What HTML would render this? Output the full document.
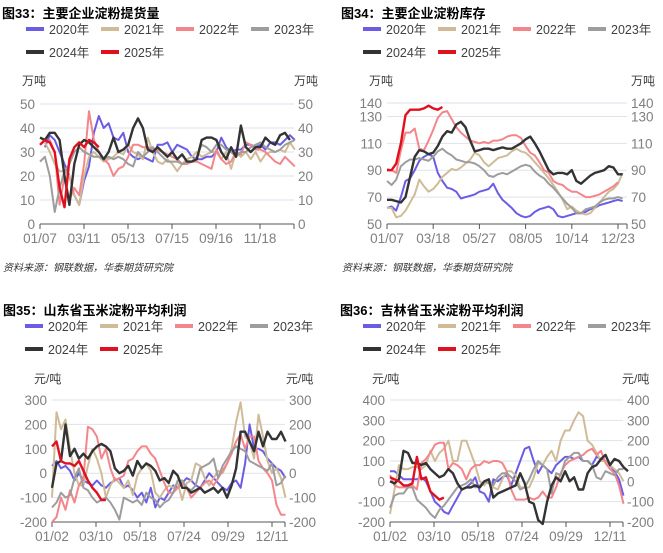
<!DOCTYPE html>
<html><head><meta charset="utf-8"><style>
body{margin:0;background:#fff}
svg text{font-family:"Liberation Sans","Noto Sans CJK SC",sans-serif}
</style></head><body>
<svg id="s" width="663" height="548" xmlns="http://www.w3.org/2000/svg"></svg>
<script>
const years=["2020年","2021年","2022年","2023年","2024年","2025年"];
const colors=["#6b5ce6","#cfbb98","#f4868b","#9d9d9d","#333333","#e0101e"];
// Panel 1: weekly shipments (万吨)
const p1Ticks=[0,10,20,30,40,50];
const p1XLabels=["01/07","03/11","05/13","07/15","09/16","11/18"];
const p1s2020=[null,32,37,35,30,25,20,12,8,18,24,38,45,40,42,36,35,38,30,28,27,28,27,26,33,33,34,30,33,32,31,28,27,27,28,28,30,36,32,30,31,31,33,33,32,33,31,34,34,33,35,37,35];
const p1s2021=[null,34,30,25,22,22,20,12,8,20,28,30,28,26,27,28,30,29,33,30,29,27,36,30,26,25,27,25,22,25,27,28,30,28,29,30,30,27,30,23,30,28,30,27,30,26,29,30,30,31,30,34,31];
const p1s2022=[null,34,35,30,8,20,10,15,12,25,47,35,30,27,25,20,23,24,28,33,33,32,32,31,31,30,29,28,27,25,25,26,26,25,24,23,31,27,25,26,30,29,34,33,31,31,30,28,26,25,28,26,24];
const p1s2023=[26,28,20,5,15,22,25,30,32,30,29,28,28,27,28,27,28,27,25,24,30,28,30,32,30,28,26,26,26,25,26,26,28,33,32,30,33,33,31,30,28,30,30,32,33,34,32,31,30,31,33,34,35];
const p1s2024=[36,35,38,38,35,20,8,25,33,35,34,32,30,27,30,36,30,31,33,40,44,40,31,30,32,30,28,30,27,29,26,26,27,35,36,36,35,30,27,32,28,41,32,30,32,32,36,34,33,37,38,35];
const p1s2025=[33,35,34,30,15,7,27,32,34,32,35,34,32];
// Panel 2: inventory (万吨)
const p2Ticks=[50,70,90,110,130,140];
const p2XLabels=["01/07","03/18","05/27","08/05","10/14","12/23"];
const p2s2020=[62,63,60,70,82,84,90,97,100,102,100,88,82,77,76,74,69,70,71,72,74,75,76,80,73,68,65,62,58,56,55,56,59,61,62,63,61,56,55,56,57,58,58,59,61,62,64,65,66,67,68,67];
const p2s2021=[62,62,55,56,60,66,72,83,78,74,76,80,85,88,91,90,92,95,98,103,101,96,93,96,99,100,101,104,106,104,103,100,96,92,88,84,79,74,68,61,63,60,58,57,58,62,66,70,74,76,80,88];
const p2s2022=[91,90,88,105,118,118,121,106,105,112,120,129,133,134,128,122,118,115,112,111,110,111,110,112,112,113,115,116,116,114,108,103,101,96,90,88,82,80,79,76,74,74,72,70,70,71,72,74,76,78,81];
const p2s2023=[82,79,83,93,96,98,98,99,98,97,100,104,106,103,101,98,97,96,96,95,93,90,86,85,87,88,87,89,91,93,94,93,89,86,84,80,77,73,69,65,62,58,58,61,62,63,66,68,69,69,70,69];
const p2s2024=[68,68,67,66,70,85,100,105,104,102,103,108,115,119,118,124,126,122,112,104,105,106,106,105,106,107,106,106,108,110,113,115,110,104,97,90,87,88,88,87,90,82,80,83,86,88,89,90,93,92,87,87];
const p2s2025=[90,90,95,110,131,135,135,135,136,138,136,135,137];
// Panel 3: Shandong profit (元/吨), weekly samples
const p3Ticks=[-200,-100,0,100,200,300];
const p3XLabels=["01/02","03/10","05/18","07/24","09/29","12/11"];
const p3s2020=[30,50,20,30,10,-30,0,-30,-40,-50,-30,-50,-60,-40,-30,-20,-60,-50,-70,-100,-80,-120,-60,-140,-100,-110,-80,-50,-60,-40,-20,-30,-50,-60,-30,0,-20,-40,-60,-70,-40,-30,-60,40,200,100,100,90,60,40,20,10,-20];
const p3s2021=[-100,250,180,220,100,0,-50,-50,30,100,60,0,-100,-50,-20,-40,-60,-30,-90,-10,20,40,10,-80,-100,-70,-50,-60,-40,-110,-40,-30,40,30,-20,-50,-20,10,0,40,100,210,290,150,130,60,240,150,50,0,20,-20,-100];
const p3s2022=[-200,-180,-100,-150,-70,-120,-50,-20,190,180,150,60,100,20,-30,-20,-10,50,60,90,110,110,80,60,10,-40,-80,-80,-60,-40,-60,-100,-80,-60,-40,-30,-50,-20,10,40,80,130,160,100,150,150,50,20,0,-30,-130,-170,-170];
const p3s2023=[-140,-120,-80,-100,-90,-20,20,-60,-70,-100,-120,-110,-100,-120,-150,-190,-100,-110,-120,-110,-130,-80,-100,-110,-140,-120,-110,-80,-30,-30,-60,-70,-50,20,30,40,60,-20,30,60,90,110,100,90,50,40,30,20,10,40,-50,-40,-10];
const p3s2024=[-60,40,50,200,70,100,60,80,60,90,110,120,110,90,20,0,10,30,-10,50,20,40,30,10,-30,-20,-40,10,-10,-60,-60,-80,-70,-60,-80,-70,-60,-80,-60,-100,-50,20,170,170,130,90,170,110,170,140,140,170,130];
const p3s2025=[110,130,50,40,40,30,50,10,-30,-60,-80,-110,-110];
// Panel 4: Jilin profit (元/吨)
const p4Ticks=[-200,-100,0,100,200,300,400];
const p4XLabels=p3XLabels;
const p4s2020=[50,50,30,10,10,10,10,20,0,-50,-100,-120,-150,-160,-120,-80,-40,-30,-10,20,-50,-60,-100,10,0,20,30,-20,40,100,160,170,100,40,80,60,40,80,100,120,120,110,120,100,100,80,120,110,100,80,50,10,-70];
const p4s2021=[-160,-40,80,60,60,70,70,60,80,150,100,140,160,200,100,100,200,200,140,80,0,-20,10,-30,-40,10,50,50,30,-30,-30,-30,20,90,80,120,150,100,200,250,250,300,340,320,200,180,140,100,100,80,60,40,0];
const p4s2022=[30,-20,-30,-30,-30,-20,-40,90,110,140,180,190,190,60,90,80,60,10,60,80,80,100,90,100,100,90,50,-40,-90,-90,-90,-80,-90,-80,-50,-80,-80,-30,40,80,100,110,120,130,150,160,130,150,90,60,40,-20,-110];
const p4s2023=[-130,-70,-60,-60,-30,-30,-90,-110,-130,-160,-180,-140,-120,-90,-60,-30,-20,-10,10,-30,-20,0,-10,-20,20,40,40,20,0,-40,-30,10,60,100,80,60,-60,40,30,100,120,140,140,100,100,80,20,10,50,40,30,60,60];
const p4s2024=[0,-10,10,150,140,90,90,80,90,60,40,20,30,60,40,-10,-40,-30,-30,-20,-30,0,10,-80,-60,-50,-40,-30,-20,40,-10,-100,-110,-190,-210,-100,-20,20,0,50,0,20,-40,-40,40,70,80,110,130,80,110,100,70,50];
const p4s2025=[20,10,0,-20,-20,-10,120,10,20,-50,-70,-90,-80];

const S=document.getElementById('s');
const NS="http://www.w3.org/2000/svg";
function mk(tag,attrs,txt){const e=document.createElementNS(NS,tag);for(const k in attrs)e.setAttribute(k,attrs[k]);if(txt!==undefined)e.textContent=txt;S.appendChild(e);return e;}

function panel(o){
  const t=mk('text',{x:o.ox,y:o.titleY,'font-size':13,'font-weight':'bold',fill:'#000'},o.title);
  
  
  for(let i=0;i<6;i++){
    const lx=o.ox+o.legX+(i%4)*75, ly=o.legY+Math.floor(i/4)*23;
    const sw=mk('line',{x1:lx,y1:ly,x2:lx+18,y2:ly,stroke:colors[i],'stroke-width':4});
    
    
    const lt=mk('text',{x:lx+23,y:ly+5,'font-size':12.5,fill:'#404040'},years[i]);
    
    
  }
  const ul=mk('text',{x:o.x0-18,y:o.unitY,'font-size':12,fill:'#404040'},o.unit);
  
  
  const ur=mk('text',{x:o.rUnitX,y:o.unitY,'font-size':12,fill:'#404040'},o.unit);
  
  
  const ymin=o.ticks[0],ymax=o.ticks[o.ticks.length-1];
  const Y=v=>o.yb-(v-ymin)/(ymax-ymin)*(o.yb-o.yt);
  const X=i=>o.x0+i*o.dx;
  o.ticks.forEach(v=>{
    if(v!==ymin){const g=mk('line',{x1:o.x0,x2:o.x1,y1:Y(v),y2:Y(v),stroke:'#dfe2ec','stroke-width':1});
      
      }
    const a=mk('text',{x:o.x0-5,y:Y(v)+5,'font-size':13.5,fill:'#7f7f7f','text-anchor':'end'},v);
    
    
    const b=mk('text',{x:o.x1+4,y:Y(v)+5,'font-size':13.5,fill:'#7f7f7f'},v);
    
    
  });
  const ax=mk('line',{x1:o.x0,x2:o.x1,y1:o.yb,y2:o.yb,stroke:'#555','stroke-width':1});
  
  
  o.xl.forEach((l,i)=>{
    const xx=o.x0+i*o.xlStep;
    const tk=mk('line',{x1:xx,x2:xx,y1:o.yb,y2:o.yb+5,stroke:'#555'});
    
    
    const tl=mk('text',{x:xx,y:o.yb+19,'font-size':13.5,fill:'#7f7f7f','text-anchor':'middle'},l);
    
    
  });
  const rt=mk('line',{x1:o.x1,x2:o.x1,y1:o.yb,y2:o.yb+5,stroke:'#555'});
  
  
  o.series.forEach((arr,si)=>{
    let d='';let pen=false;
    arr.forEach((v,i)=>{if(v===null){pen=false;return;}d+=(pen?'L':'M')+X(i).toFixed(1)+','+Y(v).toFixed(1);pen=true;});
    const p=mk('path',{d:d,fill:'none',stroke:colors[si],'stroke-width':si>=4?2.4:2,'stroke-linejoin':'round'});
    
    
  });
  if(o.src){const s=mk('text',{x:o.ox+1,y:271,'font-size':10,'font-style':'italic',fill:'#333'},'资料来源：钢联数据，华泰期货研究院');
    
    }
}
panel({id:'chart33',ox:2,title:'图33：主要企业淀粉提货量',titleY:18,legX:24,legY:29,unit:'万吨',unitY:85,rUnitX:294,
  x0:40,x1:294,yt:104,yb:224,dx:4.9,xl:p1XLabels,xlStep:44,ticks:p1Ticks,src:true,
  series:[p1s2020,p1s2021,p1s2022,p1s2023,p1s2024,p1s2025]});
panel({id:'chart34',ox:341,title:'图34：主要企业淀粉库存',titleY:18,legX:22,legY:29,unit:'万吨',unitY:85,rUnitX:631,
  x0:387,x1:627,yt:103,yb:224,dx:4.62,xl:p2XLabels,xlStep:46.2,ticks:p2Ticks,src:true,
  series:[p2s2020,p2s2021,p2s2022,p2s2023,p2s2024,p2s2025]});
panel({id:'chart35',ox:3,title:'图35：山东省玉米淀粉平均利润',titleY:315,legX:22,legY:326,unit:'元/吨',unitY:383,rUnitX:286,
  x0:52,x1:285,yt:400,yb:522,dx:4.49,xl:p3XLabels,xlStep:44,ticks:p3Ticks,
  series:[p3s2020,p3s2021,p3s2022,p3s2023,p3s2024,p3s2025]});
panel({id:'chart36',ox:340,title:'图36：吉林省玉米淀粉平均利润',titleY:315,legX:23,legY:326,unit:'元/吨',unitY:383,rUnitX:622,
  x0:390,x1:623,yt:400,yb:522,dx:4.49,xl:p4XLabels,xlStep:44,ticks:p4Ticks,
  series:[p4s2020,p4s2021,p4s2022,p4s2023,p4s2024,p4s2025]});
</script>
</body></html>
